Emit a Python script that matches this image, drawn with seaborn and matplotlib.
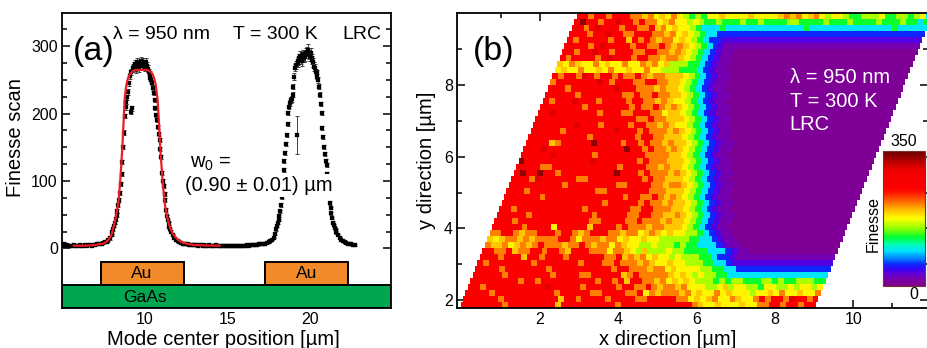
import numpy as np
import matplotlib
matplotlib.use("Agg")
import matplotlib.pyplot as plt
from matplotlib.colors import LinearSegmentedColormap
from matplotlib.patches import Rectangle
from matplotlib.ticker import FixedLocator
import seaborn as sns

# ---------------- (a) finesse line scan ----------------
SCAN_X = [
    5.0, 5.1, 5.2, 5.3, 5.4, 5.5, 5.6, 5.7, 5.8, 5.9,
    6.0, 6.1, 6.2, 6.3, 6.4, 6.5, 6.6, 6.7, 6.8, 6.9,
    7.0, 7.1, 7.2, 7.3, 7.4, 7.5, 7.6, 7.7, 7.8, 7.9,
    8.00, 8.05, 8.10, 8.15, 8.20, 8.25, 8.30, 8.35, 8.40, 8.45,
    8.50, 8.55, 8.60, 8.65, 8.70, 8.75, 8.80, 8.85, 8.90, 8.95,
    9.00, 9.05, 9.10, 9.15, 9.20, 9.25, 9.30, 9.35, 9.40, 9.45,
    9.50, 9.55, 9.60, 9.65, 9.70, 9.75, 9.80, 9.85, 9.90, 9.95,
    10.00, 10.05, 10.10, 10.15, 10.20, 10.25, 10.30, 10.35, 10.40, 10.45,
    10.50, 10.55, 10.60, 10.65, 10.70, 10.75, 10.80, 10.85, 10.90, 10.95,
    11.00, 11.05, 11.10, 11.15, 11.20, 11.25, 11.30, 11.35, 11.40, 11.45,
    11.50, 11.55, 11.60,
    11.7, 11.8, 11.9, 12.0, 12.1, 12.2, 12.3, 12.4, 12.5, 12.6,
    12.7, 12.8, 12.9, 13.0, 13.1, 13.2, 13.3, 13.4, 13.5, 13.6,
    13.7, 13.8, 13.9, 14.0, 14.1, 14.2, 14.3, 14.4, 14.5, 14.6,
    14.7, 14.8, 14.9, 15.0, 15.1, 15.2, 15.3, 15.4, 15.5, 15.6,
    15.7, 15.8, 15.9, 16.0, 16.1, 16.2, 16.3, 16.4, 16.5, 16.6,
    16.7, 16.8, 16.9, 17.0, 17.1, 17.2, 17.3, 17.4, 17.5, 17.6, 17.7, 17.8,
    17.90, 17.95, 18.00, 18.05, 18.10, 18.15, 18.20, 18.25, 18.30, 18.35,
    18.40, 18.45, 18.50, 18.55, 18.60, 18.65, 18.70, 18.75, 18.80, 18.85,
    18.90, 18.95, 19.00, 19.05, 19.10, 19.15, 19.20, 19.25, 19.30, 19.35,
    19.40, 19.45, 19.50, 19.55, 19.60, 19.65, 19.70, 19.75, 19.80, 19.85,
    19.90, 19.95, 20.00, 20.05, 20.10, 20.15, 20.20, 20.25, 20.30, 20.35,
    20.40, 20.45, 20.50, 20.55, 20.60, 20.65, 20.70, 20.75, 20.80, 20.85,
    20.90, 20.95, 21.00, 21.05, 21.10, 21.15, 21.20, 21.25, 21.30, 21.35,
    21.40, 21.45, 21.50, 21.55, 21.60,
    21.7, 21.8, 21.9, 22.0, 22.1, 22.2, 22.3, 22.4, 22.5, 22.6, 22.7,
]
SCAN_F = [
    4, 6, 4, 5, 4, 4, 4, 5, 4, 4,
    4, 5, 4, 4, 5, 4, 5, 5, 4, 5,
    5, 6, 6, 7, 7, 8, 9, 10, 12, 15,
    20, 24, 28, 33, 38, 44, 50, 56, 64, 72,
    82, 95, 110, 128, 150, 172, 196, 210, 218, 224,
    232, 245, 256, 262, 203, 208, 268, 270, 273, 266,
    270, 276, 272, 268, 271, 275, 278, 273, 276, 272,
    270, 274, 276, 271, 267, 262, 258, 253, 250, 246,
    238, 231, 220, 208, 198, 191, 180, 170, 161, 148,
    136, 112, 100, 92, 80, 72, 57, 48, 42, 37,
    32, 28, 25,
    20, 16, 13, 11, 9, 8, 7, 6, 6, 6,
    5, 5, 5, 5, 5, 4, 5, 5, 4, 5,
    4, 4, 5, 4, 4, 4, 5, 4, 4, 4,
    4, 4, 4, 4, 3, 4, 4, 4, 4, 4,
    4, 4, 4, 4, 4, 5, 4, 5, 5, 5,
    5, 5, 6, 6, 6, 7, 7, 8, 9, 11, 13, 16,
    22, 28, 33, 38, 42, 48, 55, 64, 76, 92,
    117, 130, 141, 155, 169, 185, 201, 210, 216, 220,
    222, 228, 240, 255, 268, 272, 168, 278, 275, 282,
    286, 280, 278, 285, 288, 283, 285, 290, 292, 295,
    290, 288, 285, 290, 283, 280, 276, 270, 268, 262,
    260, 255, 250, 240, 228, 215, 201, 179, 165, 151,
    140, 130, 124, 110, 95, 80, 67, 60, 52, 45,
    38, 34, 30, 27, 24,
    20, 16, 13, 11, 9, 8, 7, 6, 6, 5, 5,
]
SCAN_ERR = [
    3, 3, 2, 2, 1, 1, 1, 1, 1, 1,
    1, 1, 1, 1, 1, 1, 1, 1, 1, 1,
    1, 1, 1, 1, 1, 1, 1, 1, 2, 2,
    2, 2, 2, 2, 2, 3, 3, 3, 3, 3,
    3, 3, 3, 3, 3, 3, 3, 4, 4, 4,
    4, 4, 5, 5, 4, 4, 6, 6, 6, 6,
    6, 6, 6, 6, 6, 6, 6, 6, 6, 6,
    6, 6, 6, 6, 5, 5, 5, 4, 4, 4,
    4, 4, 3, 3, 3, 3, 3, 3, 3, 3,
    3, 3, 3, 3, 3, 3, 3, 2, 2, 2,
    2, 2, 2,
    1, 1, 1, 1, 1, 1, 1, 1, 1, 1,
    1, 1, 1, 1, 1, 1, 1, 1, 1, 1,
    1, 1, 1, 1, 1, 1, 1, 1, 1, 1,
    1, 1, 1, 1, 1, 1, 1, 1, 1, 1,
    1, 1, 1, 1, 1, 1, 1, 1, 1, 1,
    1, 1, 1, 1, 1, 1, 1, 1, 1, 1, 1, 1,
    2, 2, 2, 2, 2, 2, 2, 3, 3, 3,
    3, 3, 3, 3, 3, 3, 3, 3, 4, 4,
    4, 4, 4, 5, 5, 6, 28, 6, 6, 6,
    7, 7, 7, 7, 7, 7, 7, 7, 7, 8,
    7, 7, 7, 7, 6, 6, 6, 6, 5, 5,
    5, 4, 4, 4, 4, 3, 3, 3, 3, 3,
    3, 3, 3, 3, 3, 3, 3, 2, 2, 2,
    2, 2, 2, 2, 2,
    1, 1, 1, 1, 1, 1, 1, 1, 1, 1, 1,
]

# fitted profile of the first mode
FIT_X = [5.7, 6.5, 7.0, 7.5, 7.7, 7.85, 7.93, 8.0, 8.1, 8.2,
         8.3, 8.43, 8.55, 8.64, 8.72, 8.79, 8.85, 8.9, 8.95, 9.03,
         9.1, 9.2, 9.34, 9.5, 9.8, 10.1, 10.24, 10.3, 10.4, 10.47,
         10.54, 10.6, 10.67, 10.72, 10.78, 10.87, 10.95, 11.07, 11.19, 11.27,
         11.35, 11.45, 11.55, 11.7, 11.85, 12.0, 12.3, 12.6, 13.0, 13.8, 14.55]
FIT_F = [4, 4, 5, 7, 10, 14, 17, 21, 30, 40,
         52, 72, 110, 146, 185, 221, 235, 243, 249, 255,
         258, 261, 264, 265, 265, 265, 264, 263, 261, 259,
         255, 250, 243, 233, 221, 185, 146, 105, 72, 58,
         48, 38, 30, 22, 17, 13, 8.5, 6.5, 5, 4.2, 4]

# gold pads on the GaAs substrate [um]
AU_LEFT = [7.33, 17.28]
AU_RIGHT = [12.36, 22.31]

# ---------------- (b) finesse map ----------------
# one string per scan row, top row first; one letter per cell,
# the last letter of a row continues to the end of the row
LEVELS = {"P": 8, "v": 20, "B": 36, "b": 55, "c": 92, "g": 128, "l": 155,
          "y": 178, "Y": 193, "o": 212, "r": 262, "R": 305, "d": 335}
FINESSE_ROWS = [
    "rrorrorrro" "oYoyYyoy" "lglg" "yyYyyyyYyyyy" "YoYoyYo" "ylyylgglllyggllglyc",
    "rdrrorrRrroro" "oyYoy" "yly" "l" "gglggglggl" "ggggllgggg" "lggglggggl" "ggglggcg",
    "rrorRrrrorroor" "YoyYy" "ylg" "cccgcccccc" "cccccccgcc" "cccccccccc" "ccgccccc",
    "rrrorrRrroorrro" "oYoyY" "ylgcc" "b",
    "rorrrrrorrYroro" "YooyY" "ylgcb" "b" "B",
    "rrrrorRrrrrorroor" "oYo" "Yylgc" "bB" "v",
    "rrorrRrrorrroorro" "oYo" "Yylgc" "bBvv" "P",
    "rorrrrorRrrrorroo" "Yoo" "Yylgc" "bBvv" "P",
    "YyoYyyoyYyyoyyoYo" "yYl" "llggc" "bBvv" "P",
    "yYyyoyyYyoyyYyyoy" "yll" "lgggc" "bBvv" "P",
    "rorroRrorrorooroYo" "oYY" "Yylgc" "bBvv" "P",
    "orrrrrrrRrorrroorr" "ooY" "Yylgc" "bBvv" "P",
    "rrrorrrrrrrRrrrooo" "YoY" "Yylgc" "bBvv" "P",
    "rrrrrorrrrrrrooroor" "ooY" "Yylgc" "bBvv" "P",
    "rorrrRrrrorrrrorroo" "YoY" "yylgc" "bBvv" "P",
    "rrrrrrrorrrrrrroroor" "oYo" "Yylgc" "bBvv" "P",
    "rrRrrrrrrrorrroorrro" "oyY" "Yylgc" "bBvv" "P",
    "rrrrrrrrrrrrrrrrrooro" "oYY" "Yylgc" "bBvv" "P",
    "rrrrrrrRrrrorrrrorroo" "YoY" "yylgc" "bBvv" "P",
    "rrrrrorrrrrrrrRrrroroo" "oYo" "Yylgc" "bBvv" "P",
    "rrrrrrrrrrorrrrrrrorro" "oYY" "Yylgc" "bBvv" "P",
    "rrrrYorrrrrdrrrrorroroo" "YoY" "Yylgc" "bBvv" "P",
    "rrrRrrrrrrrrrrrrrdrroro" "oYo" "Yylgc" "bBvv" "P",
    "rrrrrRrrrrrrorrrrrrrroo" "ooY" "Yylgc" "bBvv" "P",
    "drrrrrrrrrrrRrrrrrrroroo" "oYY" "Yylgc" "bBvv" "P",
    "rrrroorrrrrrrrrrrorrrroo" "YoY" "Yylgc" "bBvv" "P",
    "rdrrdrrorrrrrrrrrdrrroroo" "oYo" "Yylgc" "bBvv" "P",
    "rrroRrrrrrroorrrrrrrrroro" "oYY" "Yylgc" "bBvv" "P",
    "rrrrrrrrrorrrrrrrroorrrroo" "Yoo" "Yylgc" "bBvv" "P",
    "rrrorrrrrrrrrrroorrrrrrroo" "oYY" "Yylgc" "bBvv" "P",
    "rrrrrrorrrrrrrrrrrrrorroor" "oYo" "Yylgc" "bBvv" "P",
    "rrrrrrrrrrrrrrrrrorrrrroroo" "YoY" "Yylgc" "bBvv" "P",
    "rrorrrrrrrrrrrorrrrrrroorro" "ooY" "Yylgc" "bBvv" "P",
    "rrrrrorrrrrrrrrrorrrrroorroo" "YYo" "Yylgc" "bBvv" "P",
    "rrrorrrrrrrrrrrroorrrroorooo" "YoY" "Yylgc" "bBvv" "P",
    "rrrrrorrrryrrrrrYrrrroroooYo" "oYY" "Yylgc" "bBvv" "P",
    "oorroYoorrrorroYorrrooYooyYoY" "yYy" "yllgc" "bBvv" "P",
    "YyYooYoYoooorroyoooYooyYyyYyyl" "lll" "lggcc" "bBvv" "P",
    "oYYoyYoYoroooYooroYooyoYyyllyll" "lgl" "ggccc" "bBvv" "P",
    "rroorYoorrorroYrrroooyooYylYlllyl" "lgg" "ggccc" "bBvv" "P",
    "rrrorrrYrrorrrorrrrrroorYoYoyYyylyl" "ll" "gg" "c" "bb" "B" "v",
    "rorrrrrrrorrrrrrrorrrooroooYoYyyYyyl" "ll" "gg" "cc" "b" "B",
    "rrrrorrrrrrrorrrrrrrrrrorroooYooyYyy" "yy" "ll" "gg" "cc" "b",
    "rrrrrorrrrrrrorrrroorrrrrYoroooooY" "yYyly" "ll" "gg" "c",
    "rrrrrrrrorrorrrrrrrrrorrorYrrooYoyY" "yYylll" "glgllgggllglgglllgg",
    "rrorrrrrrrrrrRrrrrrorrrrrorrooroYooYoy" "yyllyYlyyllgyyllylyyly",
    "rrrrorrrrrrrrrrorrrrroorrrroor" "yoYoooYo" "yYyyoyYyyylyyYyoyyYyyo",
    "rrrrrrorrrrrrrrrYrrorrrrorrrroorrrrroo" "yYyYoyyoYyyo" "rorroRrror",
    "rrrrrrrorrrrrrrrYrrrrrrrrrorrrrrrrrrrrr" "oYyyYyyyYyyoorrorror",
]

# scan geometry of the map [um]
N_COLS = 60
MAP_X0 = -0.03
ROW_SHIFT = 0.0617
CELL_W = 0.1513
MAP_Y0 = 1.77
CELL_H = 0.168

CMAP_STOPS = [(0.00, "#80008c"), (0.04, "#7c00a2"), (0.08, "#6a00cc"), (0.12, "#3c00f2"),
              (0.16, "#0a28ff"), (0.21, "#0090ff"), (0.26, "#00e4ff"), (0.31, "#00ffb0"),
              (0.36, "#00ff30"), (0.43, "#98ff00"), (0.50, "#ffff00"), (0.56, "#ffc000"),
              (0.62, "#ff7000"), (0.68, "#ff2400"), (0.72, "#ff0000"), (0.86, "#ee0000"),
              (0.93, "#b00000"), (1.00, "#6a0000")]

sns.set_style("ticks")
plt.rcParams["font.family"] = ["Liberation Sans", "DejaVu Sans"]
plt.rcParams["mathtext.fontset"] = "custom"
plt.rcParams["mathtext.rm"] = "Liberation Sans"
plt.rcParams["axes.linewidth"] = 1.3
for key in ["axes.edgecolor", "text.color", "axes.labelcolor", "xtick.color", "ytick.color"]:
    plt.rcParams[key] = "black"

W, H = 927.0, 348.0


def px_box(left, top, right, bottom):
    return [left / W, 1 - bottom / H, (right - left) / W, (bottom - top) / H]


fig = plt.figure(figsize=(9.27, 3.48), dpi=100)
axa = fig.add_axes(px_box(62, 13.3, 391, 308.3))
# right edge of panel (b) runs past the picture border
axb = fig.add_axes(px_box(457, 13.3, 928.5, 308.3))

# ---- panel (a)
axa.errorbar(SCAN_X, SCAN_F, yerr=SCAN_ERR, fmt="none", ecolor="#404040",
             elinewidth=0.7, capsize=1.5, capthick=0.7, zorder=3)
sns.scatterplot(x=SCAN_X, y=SCAN_F, marker="s", s=9, color="black",
                edgecolor="black", linewidth=0.2, ax=axa, zorder=4)
sns.lineplot(x=FIT_X, y=FIT_F, color="#ec1c24", lw=1.6, ax=axa, zorder=5)

for l, r in zip(AU_LEFT, AU_RIGHT):
    axa.add_patch(Rectangle((l, -54.6), r - l, 34.2, fc="#f28a2a", ec="black", lw=1.4, zorder=2))
    axa.text((l + r) / 2, -37.5, "Au", ha="center", va="center", fontsize=12.5)
axa.add_patch(Rectangle((5.0, -89), 19.9, 34.4, fc="#00a650", ec="black", lw=1.4, zorder=2))
axa.text(10.0, -72.5, "GaAs", ha="center", va="center", fontsize=12.5)

axa.text(5.64, 280, "(a)", fontsize=24.5, va="baseline")
axa.text(8.11, 311, "λ = 950 nm", fontsize=14, va="baseline")
axa.text(15.35, 311, "T = 300 K", fontsize=14, va="baseline")
axa.text(21.93, 311, "LRC", fontsize=14, va="baseline")
box = dict(boxstyle="square,pad=0.1", fc="white", ec="none")
axa.text(12.76, 119.5, "w$_0$ =", fontsize=14.5, va="baseline", bbox=box, zorder=6)
axa.text(12.47, 85.7, "(0.90 ± 0.01) µm", fontsize=14.5, va="baseline", bbox=box, zorder=6)

axa.set_xlim(5.0, 24.9)
axa.set_ylim(-89, 349)
axa.set_xticks([10, 15, 20])
axa.xaxis.set_minor_locator(FixedLocator([7.5, 12.5, 17.5, 22.5]))
axa.set_yticks([0, 100, 200, 300])
axa.yaxis.set_minor_locator(FixedLocator([25, 50, 75, 125, 150, 175, 225, 250, 275, 325]))
axa.tick_params(which="both", direction="in", right=True, top=False,
                labelsize=11.5, width=1.1, pad=3)
axa.tick_params(which="major", length=5.5)
axa.tick_params(which="minor", length=3.5)
axa.set_xlabel("Mode center position [µm]", fontsize=14.5)
axa.set_ylabel("Finesse scan", fontsize=14.5)
axa.xaxis.set_label_coords(0.49, -0.074)
axa.yaxis.set_label_coords(-0.112, 0.58)

# ---- panel (b)
cmap = LinearSegmentedColormap.from_list("finesse", CMAP_STOPS)
mesh = None
for r, row in enumerate(FINESSE_ROWS[::-1]):
    cells = (row + row[-1] * N_COLS)[:N_COLS]
    vals = np.array([[LEVELS[ch] for ch in cells]], dtype=float)
    xe = MAP_X0 + r * ROW_SHIFT + CELL_W * np.arange(N_COLS + 1)
    ye = [MAP_Y0 + r * CELL_H, MAP_Y0 + (r + 1) * CELL_H]
    mesh = axb.pcolormesh(xe, ye, vals, cmap=cmap, vmin=0, vmax=350)

axb.set_xlim(-0.12, 11.92)
axb.set_ylim(1.77, 10.0)
axb.set_xticks([2, 4, 6, 8, 10])
axb.xaxis.set_minor_locator(FixedLocator([1, 3, 5, 7, 9, 11]))
axb.set_yticks([2, 4, 6, 8])
axb.yaxis.set_minor_locator(FixedLocator([3, 5, 7, 9]))
axb.tick_params(which="both", direction="in", top=True, right=True,
                labelsize=11.5, width=1.1, pad=3)
axb.tick_params(which="major", length=5.5)
axb.tick_params(which="minor", length=3.5)
axb.set_xlabel("x direction [µm]", fontsize=14.5)
axb.set_ylabel("y direction [µm]", fontsize=14.5)
axb.xaxis.set_label_coords(0.4475, -0.074)
axb.yaxis.set_label_coords(-0.045, 0.5)

axb.text(0.29, 8.70, "(b)", fontsize=24.5, va="baseline")
for i, line in enumerate(["λ = 950 nm", "T = 300 K", "LRC"]):
    axb.text(8.38, 8.05 - 0.655 * i, line, color="white", fontsize=14.5, va="baseline")

cax = axb.inset_axes([0.9035, 0.0756, 0.089, 0.458])
cbar = fig.colorbar(mesh, cax=cax)
cbar.set_ticks([])
cbar.outline.set_edgecolor("#7a3030")
cbar.outline.set_linewidth(0.8)
axb.text(0.948, 0.567, "350", transform=axb.transAxes, ha="center", va="center", fontsize=11.5)
axb.text(0.968, 0.048, "0", transform=axb.transAxes, ha="center", va="center", fontsize=11.5)
axb.text(0.882, 0.286, "Finesse", transform=axb.transAxes, ha="center", va="center",
         rotation=90, fontsize=11.5)

fig.savefig("out.png", dpi=100)
